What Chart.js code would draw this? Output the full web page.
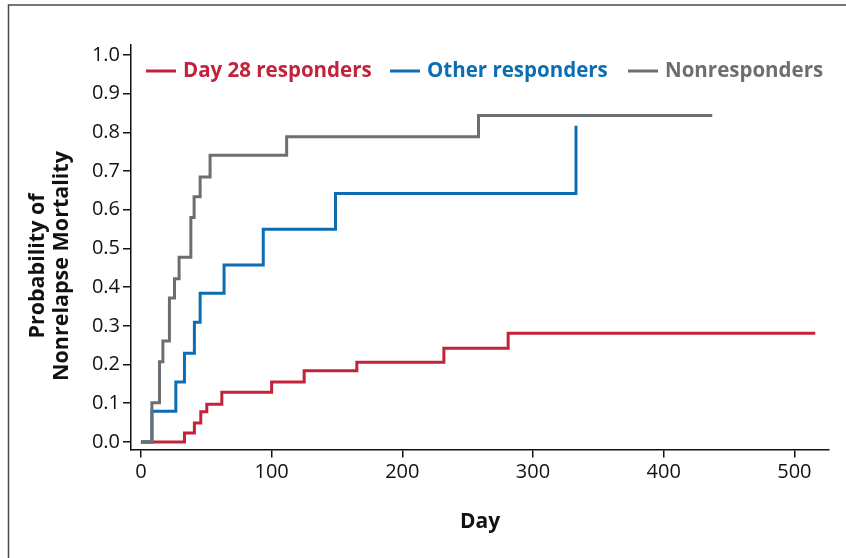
<!DOCTYPE html>
<html>
<head>
<meta charset="utf-8">
<script src="https://cdn.jsdelivr.net/npm/chart.js@4"></script>
<style>
  html, body { margin: 0; padding: 0; background: #fff; }
  #wrap { width: 846px; height: 558px; position: relative; }
</style>
</head>
<body>
<div id="wrap"><canvas id="myChart" width="846" height="558"></canvas></div>
<script>
const ctx = document.getElementById('myChart')

// Kaplan-Meier style step data (day of event, cumulative probability after event)
const day28Days = [0, 33.3, 40.9, 45.8, 50.4, 61.9, 100, 124.9, 165.2, 231.8, 281, 516]
const day28Prob = [0, 0.023, 0.049, 0.078, 0.097, 0.128, 0.155, 0.184, 0.206, 0.242, 0.281, 0.281]

const otherDays = [0, 8.4, 26.7, 33.3, 40.9, 45.3, 63.6, 93.6, 148.9, 332.9]
const otherProb = [0, 0.079, 0.155, 0.229, 0.309, 0.384, 0.457, 0.550, 0.642, 0.817]

const nonDays = [0, 8.4, 14.2, 16.8, 21.8, 25.7, 29.2, 38.2, 40.7, 45.3, 52.9, 111.5, 258.3, 437.2]
const nonProb = [0, 0.101, 0.207, 0.261, 0.372, 0.422, 0.477, 0.580, 0.634, 0.685, 0.741, 0.789, 0.844, 0.844]

const seriesNames = ['Day 28 responders', 'Other responders', 'Nonresponders']
const seriesColors = ['#c4213a', '#0b6db3', '#6d6e71']

const xTicks = [0, 100, 200, 300, 400, 500]
const yTicks = [0, 0.1, 0.2, 0.3, 0.4, 0.5, 0.6, 0.7, 0.8, 0.9, 1.0]

const xTitle = 'Day'
const yTitle = ['Probability of', 'Nonrelapse Mortality']

const FONT = '"Open Sans", "DejaVu Sans", sans-serif'

function toPoints(xs, ys) {
  return xs.map((x, i) => ({x: x, y: ys[i]}))
}

// frame round the figure, y title and the in-plot legend
const decor = {
  id: 'decor',
  beforeDraw(chart) {
    const c = chart.ctx
    c.save()
    c.fillStyle = '#fff'
    c.fillRect(0, 0, chart.width, chart.height)
    c.strokeStyle = '#4a4a4a'
    c.lineWidth = 1.5
    c.beginPath()
    c.moveTo(8.5, chart.height)
    c.lineTo(8.5, 5)
    c.lineTo(chart.width, 5)
    c.stroke()
    c.restore()
  },
  afterDraw(chart) {
    const c = chart.ctx
    c.save()
    // y title, two lines
    c.fillStyle = '#111'
    c.font = 'bold 21.5px ' + FONT
    c.textAlign = 'center'
    c.textBaseline = 'middle'
    c.translate(50, 266)
    c.rotate(-Math.PI / 2)
    c.fillText(yTitle[0], 0, -12)
    c.fillText(yTitle[1], 0, 12)
    c.restore()

    // legend
    const itemX = [146, 390, 628]
    const ly = 71
    c.save()
    c.font = 'bold 20.5px ' + FONT
    c.textBaseline = 'middle'
    c.lineWidth = 3
    seriesNames.forEach((name, i) => {
      c.strokeStyle = seriesColors[i]
      c.fillStyle = seriesColors[i]
      c.beginPath()
      c.moveTo(itemX[i], ly)
      c.lineTo(itemX[i] + 30, ly)
      c.stroke()
      c.fillText(name, itemX[i] + 37, ly)
    })
    c.restore()
  }
}

const makeSet = (i, pts) => ({
  label: seriesNames[i],
  data: pts,
  borderColor: seriesColors[i],
  backgroundColor: seriesColors[i],
  borderWidth: 3,
  stepped: 'before',
  pointRadius: 0,
  fill: false,
  order: 3 - i
})

new Chart(ctx, {
  type: 'line',
  data: {
    datasets: [
      makeSet(0, toPoints(day28Days, day28Prob)),
      makeSet(1, toPoints(otherDays, otherProb)),
      makeSet(2, toPoints(nonDays, nonProb))
    ]
  },
  options: {
    responsive: false,
    animation: false,
    layout: {padding: {left: 0, top: 45, right: 17, bottom: 0}},
    plugins: {
      legend: {display: false},
      tooltip: {enabled: false}
    },
    scales: {
      x: {
        type: 'linear',
        min: -7.6,
        max: 526.5,
        afterBuildTicks: (s) => { s.ticks = xTicks.map(v => ({value: v})) },
        afterFit: (s) => { s.height = 108.5 },
        border: {color: '#111', width: 1.5},
        grid: {drawOnChartArea: false, drawTicks: true, tickLength: 8, color: '#111', lineWidth: 1.5},
        ticks: {
          color: '#111',
          padding: 3,
          font: {family: FONT, size: 20},
          callback: (v) => String(v)
        },
        title: {
          display: true,
          text: xTitle,
          color: '#111',
          font: {family: FONT, size: 21, weight: 'bold'},
          padding: {top: 4, bottom: 23}
        }
      },
      y: {
        type: 'linear',
        min: -0.0197,
        max: 1.026,
        afterBuildTicks: (s) => { s.ticks = yTicks.map(v => ({value: v})) },
        afterFit: (s) => { s.width = 131 },
        border: {color: '#111', width: 1.5},
        grid: {drawOnChartArea: false, drawTicks: true, tickLength: 8, color: '#111', lineWidth: 1.5},
        ticks: {
          color: '#111',
          padding: 3,
          font: {family: FONT, size: 20},
          callback: (v) => Number(v).toFixed(1)
        }
      }
    }
  },
  plugins: [decor]
})
</script>
</body>
</html>
